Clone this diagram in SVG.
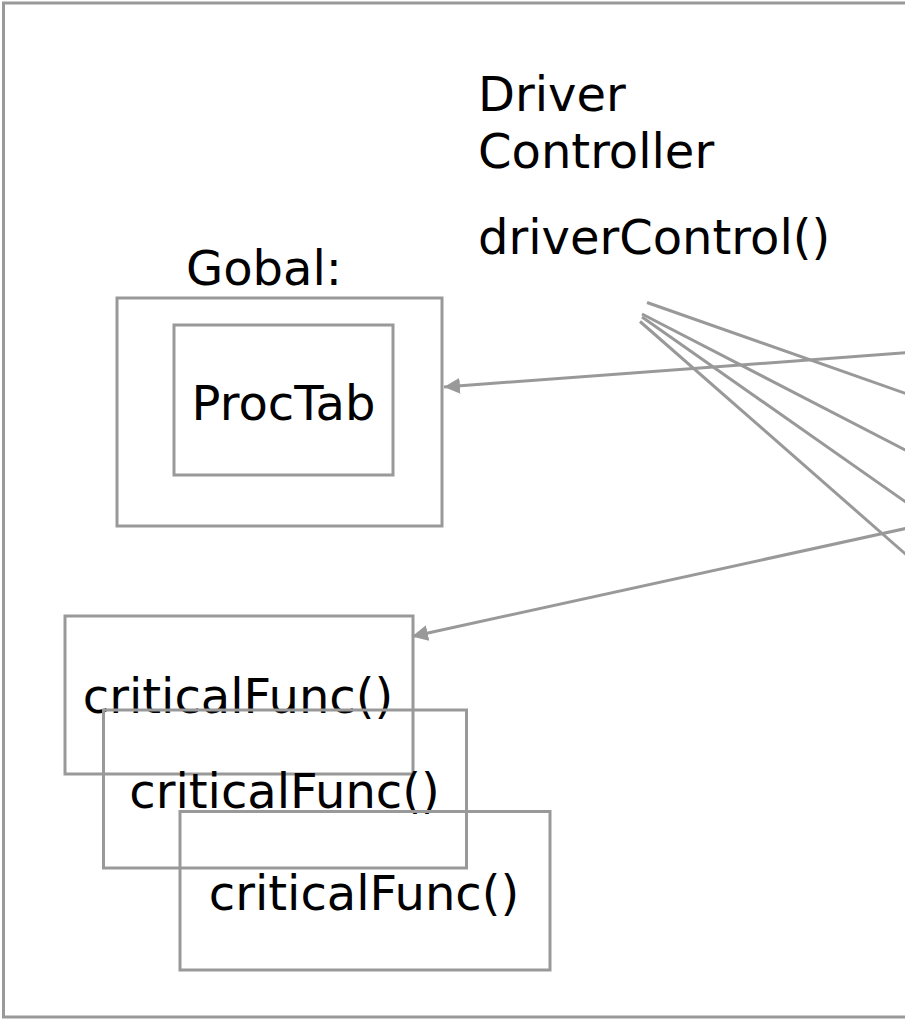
<svg xmlns="http://www.w3.org/2000/svg" width="905" height="1019" viewBox="0 0 905 1019">
<style>
.box{fill:none;stroke:#999999;stroke-width:3}
.ln{fill:none;stroke:#999999;stroke-width:3}
.t{font-family:"DejaVu Sans",sans-serif;font-size:48px;fill:#000000}
.m{text-anchor:middle}
</style>
<defs>
<marker id="arr" markerUnits="userSpaceOnUse" markerWidth="18" markerHeight="16" refX="16" refY="8" orient="auto">
<path d="M0,0 L16,8 L0,16 Z" fill="#999999"/>
</marker>
</defs>
<rect width="905" height="1019" fill="#ffffff"/>
<g id="frame"><rect class="box" x="3.5" y="3" width="1000" height="1014"/></g>
<g id="driver">
<text class="t" x="478" y="111">Driver</text>
<text class="t" x="478" y="168">Controller</text>
<text class="t" x="478" y="254">driverControl()</text>
</g>
<g id="gobal">
<text class="t m" x="264" y="285">Gobal:</text>
<rect class="box" x="117" y="298" width="325" height="228"/>
</g>
<g id="proctab">
<rect class="box" x="174" y="325" width="219" height="150"/>
<text class="t m" x="283.5" y="420">ProcTab</text>
</g>
<g id="critical1">
<rect class="box" x="65" y="616" width="348" height="158"/>
<text class="t m" x="238" y="713">criticalFunc()</text>
</g>
<g id="critical2">
<rect class="box" x="103.5" y="710" width="363" height="158"/>
<text class="t m" x="284.5" y="808">criticalFunc()</text>
</g>
<g id="critical3">
<rect class="box" x="180" y="811.5" width="370" height="158.5"/>
<text class="t m" x="364" y="910">criticalFunc()</text>
</g>
<g id="connectors">
<line class="ln" x1="647" y1="302.5" x2="910" y2="395"/>
<line class="ln" x1="642" y1="314" x2="910" y2="452.5"/>
<line class="ln" x1="642" y1="317" x2="910" y2="505"/>
<line class="ln" x1="640" y1="321.5" x2="910" y2="558"/>
<line class="ln" x1="910" y1="352.5" x2="444" y2="387" marker-end="url(#arr)"/>
<line class="ln" x1="910" y1="527.5" x2="412" y2="636.5" marker-end="url(#arr)"/>
</g>
</svg>
